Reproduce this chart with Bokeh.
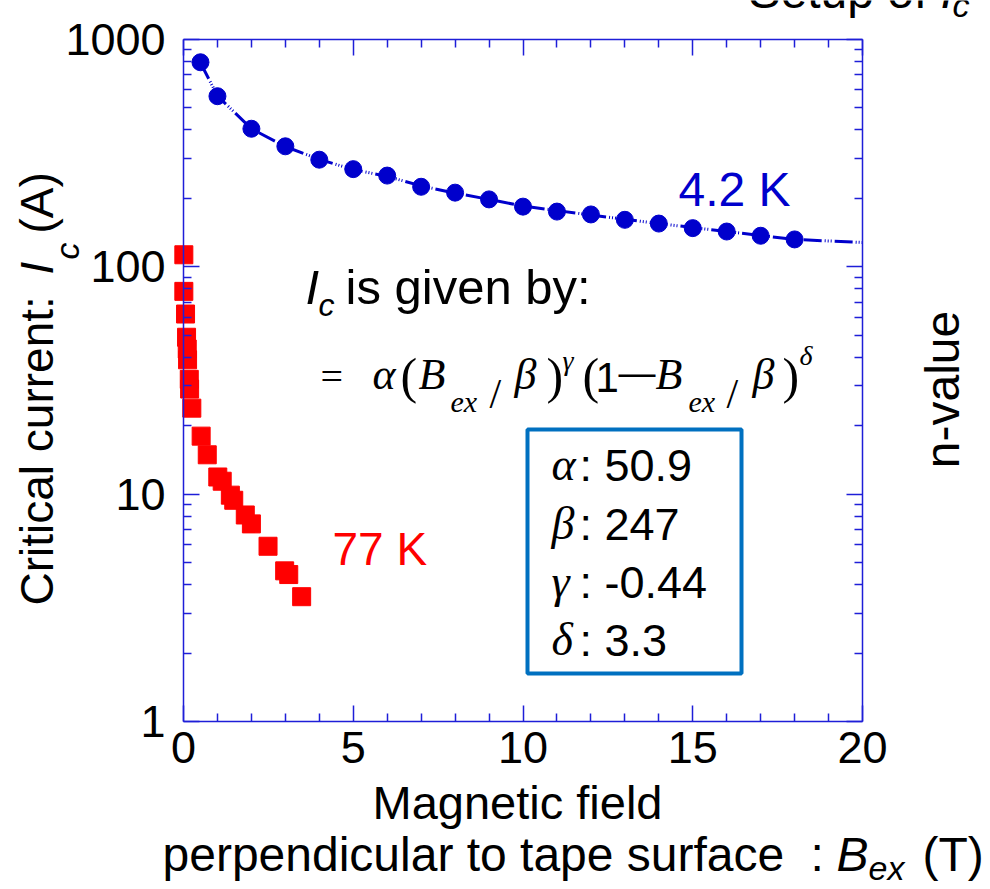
import numpy as np
from bokeh.plotting import figure
from bokeh.models import (Range1d, LinearAxis, LogAxis, FixedTicker, NumeralTickFormatter,
                          CustomJSTickFormatter, Label, BoxAnnotation)
from bokeh.embed import file_html
from bokeh.resources import INLINE

# ---------------- data ----------------
field_42K = [0.5, 1, 2, 3, 4, 5, 6, 7, 8, 9, 10, 11, 12, 13, 14, 15, 16, 17, 18]
ic_42K = [794, 563, 405, 339, 296, 269, 252, 225, 212, 198, 184, 175, 170, 161, 155, 148, 143, 137, 132]

fit_field = [0.5, 1, 2, 3, 4, 5, 6, 7, 8, 9, 10, 12, 14, 16, 18, 20]
fit_ic = [790, 565, 405, 338, 297, 268, 250, 227, 211, 198, 185, 169, 155, 143, 132, 128]

field_77K = [0.01, 0.01, 0.06, 0.09, 0.11, 0.12, 0.17, 0.18, 0.245, 0.52, 0.70,
             1.01, 1.14, 1.38, 1.48, 1.82, 2.0, 2.49, 2.98, 3.1, 3.48]
ic_77K = [113, 78, 62, 49, 43.5, 39, 32, 29, 23.9, 18, 14.9,
          11.9, 11.4, 9.9, 9.4, 8.1, 7.4, 5.9, 4.6, 4.43, 3.54]

x_ticks = [0, 5, 10, 15, 20]
x_minor_ticks = [1, 2, 3, 4, 6, 7, 8, 9, 11, 12, 13, 14, 16, 17, 18, 19]
y_ticks = [1, 10, 100, 1000]
y_minor_ticks = [2, 3, 4, 5, 6, 7, 8, 9, 20, 30, 40, 50, 60, 70, 80, 90,
                 200, 300, 400, 500, 600, 700, 800, 900]
param_symbols = ["α", "β", "γ", "δ"]
param_values = [": 50.9", ": 247", ": -0.44", ": 3.3"]

# ---------------- layout (page pixels) ----------------
W, H = 990, 889
FL, FR, FT, FB = 183, 862, 39, 721      # plot box edges
X0, X1 = 0.0, 20.0
LOG0, LOG1 = 0.0, 3.0
px_per_x = (FR - FL) / (X1 - X0)
px_per_dec = (FB - FT) / (LOG1 - LOG0)

# the drawing frame spans the whole canvas; the axes sit at fixed data locations
xr = Range1d(X0 - FL / px_per_x, X1 + (W - FR) / px_per_x)
yr = Range1d(10 ** (LOG0 - (H - FB) / px_per_dec), 10 ** (LOG1 + FT / px_per_dec))

BLUE = "#0000CC"
AXIS = "#1E1ED8"
RED = "#FF0000"
SANS = "Liberation Sans"
SERIF = "Liberation Serif"

p = figure(width=W, height=H, x_range=xr, y_range=yr, y_axis_type="log",
           output_backend="svg", toolbar_location=None, min_border=0)
p.grid.visible = False
p.outline_line_color = None
p.background_fill_color = "white"
p.border_fill_color = "white"


def style_axis(ax, labels=True):
    ax.axis_line_color = AXIS
    ax.axis_line_width = 1.5
    ax.major_tick_line_color = AXIS
    ax.minor_tick_line_color = AXIS
    ax.major_tick_line_width = 1.5
    ax.minor_tick_line_width = 1.5
    ax.major_tick_in = 16
    ax.major_tick_out = 0
    ax.minor_tick_in = 8
    ax.minor_tick_out = 0
    ax.major_label_text_font = SANS
    ax.major_label_text_color = "black"
    ax.major_label_text_font_size = "45px"
    if not labels:
        ax.formatter = CustomJSTickFormatter(code="return ''")
        ax.major_label_standoff = 0


xb = p.xaxis[0]
xb.ticker = FixedTicker(ticks=x_ticks, minor_ticks=x_minor_ticks)
xb.bounds = (X0, X1)
xb.fixed_location = y_ticks[0]
style_axis(xb)
xb.major_label_standoff = 10

yl = p.yaxis[0]
yl.ticker = FixedTicker(ticks=y_ticks, minor_ticks=y_minor_ticks)
yl.formatter = NumeralTickFormatter(format="0")
yl.bounds = (y_ticks[0], y_ticks[-1])
yl.fixed_location = X0
style_axis(yl)
yl.major_label_standoff = 18

xt = LinearAxis(ticker=FixedTicker(ticks=x_ticks, minor_ticks=x_minor_ticks),
                bounds=(X0, X1), fixed_location=y_ticks[-1])
style_axis(xt, labels=False)
p.add_layout(xt, "above")

yrt = LogAxis(ticker=FixedTicker(ticks=y_ticks, minor_ticks=y_minor_ticks),
              bounds=(y_ticks[0], y_ticks[-1]), fixed_location=X1)
style_axis(yrt, labels=False)
p.add_layout(yrt, "right")

# ---------------- data marks ----------------
p.line(fit_field, fit_ic, line_color=BLUE, line_width=3, line_dash="18 3 1 2 1 2 1 3")
p.scatter(field_42K, ic_42K, marker="circle", size=17, fill_color=BLUE, line_color=BLUE)
p.scatter(field_77K, ic_77K, marker="square", size=18, fill_color=RED, line_color=RED)


# ---------------- annotations ----------------
def dx(X):
    return X0 + (X - FL) / px_per_x


def dy(Y):
    return 10 ** (LOG0 + (FB - Y) / px_per_dec)


K = 0.41  # baseline correction (fraction of font size)


def lab(X, Y, text, size=46, font=SANS, style="normal", color="black",
        align="left", rot=False):
    if rot:
        ax, ay, ang = X - K * size, Y, np.pi / 2
    else:
        ax, ay, ang = X, Y - K * size, 0.0
    p.add_layout(Label(x=dx(ax), y=dy(ay), text=text, text_font=font,
                       text_font_size=f"{size}px", text_font_style=style,
                       text_color=color, text_align=align,
                       text_baseline="alphabetic", angle=ang))


# series labels
lab(678, 209, "4.2 K", size=48, color=BLUE)
lab(332, 567, "77 K", size=46, color=RED)

# y-axis title (rotated)
lab(55, 605, "Critical current:", size=46, rot=True)
lab(55, 274, "I", size=46, style="italic", rot=True)
lab(80, 259, "c", size=34, style="italic", rot=True)
lab(55, 233, "(A)", size=46, rot=True)

# right axis title
lab(962, 389, "n-value", size=48, rot=True, align="center")

# x-axis title (two lines)
lab(517, 821, "Magnetic field", size=47, align="center")
lab(162, 874, "perpendicular to tape surface", size=48)
lab(810, 874, ":", size=48)
lab(836, 874, "B", size=48, style="italic")
lab(868, 881, "ex", size=34, style="italic")
lab(922, 874, "(T)", size=48)

# partial heading at the top of the slide
lab(748, 11, "Setup of", size=48)
lab(940, 11, "I", size=48, style="italic")
lab(952, 18, "c", size=34, style="italic")

# formula
lab(305, 307, "I", size=49, style="italic")
lab(318, 318, "c", size=32, style="italic")
lab(345, 307, "is given by:", size=49)

lab(320, 392, "=", size=40, font=SERIF)
lab(372, 392, "α", size=44, font=SERIF, style="italic")
lab(400, 396, "(", size=50, font=SERIF)
lab(418, 392, "B", size=44, font=SERIF, style="italic")
lab(450, 413, "ex", size=30, font=SERIF, style="italic")
lab(489, 411, "/", size=42, font=SERIF)
lab(514, 392, "β", size=44, font=SERIF, style="italic")
lab(546, 396, ")", size=50, font=SERIF)
lab(562, 371, "γ", size=28, font=SERIF, style="italic")
lab(582, 396, "(", size=50, font=SERIF)
lab(595, 394, "1", size=42)
lab(618, 387, "—", size=37)
lab(655, 392, "B", size=44, font=SERIF, style="italic")
lab(688, 413, "ex", size=30, font=SERIF, style="italic")
lab(726, 411, "/", size=42, font=SERIF)
lab(752, 392, "β", size=44, font=SERIF, style="italic")
lab(782, 396, ")", size=50, font=SERIF)
lab(799, 366, "δ", size=28, font=SERIF, style="italic")

# parameter box
p.add_layout(BoxAnnotation(left=dx(527), right=dx(741), top=dy(429), bottom=dy(673),
                           fill_color=None, fill_alpha=0, line_color="#0070C0",
                           line_alpha=1.0, line_width=4))
rows_y = [483, 542, 600, 658]
for sym, val, yy in zip(param_symbols, param_values, rows_y):
    lab(551, yy, sym, size=46, font=SERIF, style="italic")
    lab(579, yy, val, size=45)

open("out.html", "w").write(file_html(p, INLINE))
